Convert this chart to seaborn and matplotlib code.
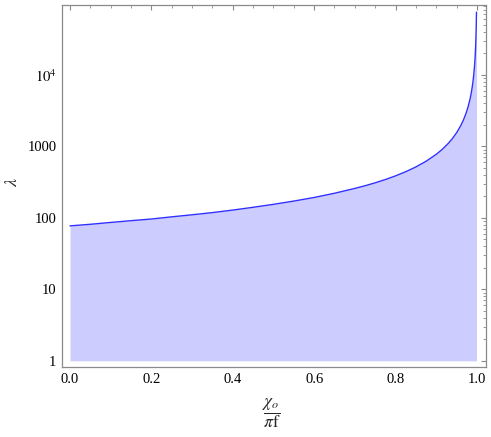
import numpy as np
import pandas as pd
import matplotlib
matplotlib.use("Agg")
import matplotlib.pyplot as plt
import seaborn as sns
from matplotlib.ticker import FixedLocator, NullFormatter

# values
x_vals = [0.0, 0.05, 0.1, 0.15, 0.2, 0.25, 0.3, 0.35, 0.4, 0.45, 0.5, 0.55,
          0.6, 0.65, 0.7, 0.725, 0.75, 0.775, 0.8, 0.825, 0.85, 0.875, 0.9,
          0.915, 0.93, 0.94, 0.95, 0.96, 0.967, 0.973, 0.978, 0.982, 0.985,
          0.988, 0.99, 0.992, 0.994, 0.9955, 0.9967, 0.9976, 0.9984, 0.999]
lam_vals = [77, 81, 86, 91, 96, 103, 110, 118, 128, 140, 154, 171,
            192, 220, 257, 280, 308, 342, 385, 440, 513, 616, 770,
            905, 1100, 1283, 1540, 1925, 2333, 2852, 3500, 4280, 5130,
            6420, 7700, 9625, 12830, 17100, 23300, 32000, 48100, 75000]
y_ticks = [1, 10, 100, 1000, 10000]
y_tick_labels = ["1", "10", "100", "1000", r"$10^4$"]
x_ticks = [0.0, 0.2, 0.4, 0.6, 0.8, 1.0]
x_tick_labels = ["0.0", "0.2", "0.4", "0.6", "0.8", "1.0"]

df = pd.DataFrame({"x": x_vals, "lam": lam_vals})

sns.set_style("white")
plt.rcParams["font.family"] = ["Liberation Serif", "DejaVu Serif"]
plt.rcParams["mathtext.fontset"] = "stix"

fig = plt.figure(figsize=(4.91, 4.37), dpi=100)
ax = fig.add_axes([0.1263, 0.160, 0.989 - 0.1263, 0.9886 - 0.160])

line_color = "#3030ff"
fill_color = "#ccccff"
ax.fill_between(df["x"], 1, df["lam"], color=fill_color, linewidth=0, zorder=1)
sns.lineplot(data=df, x="x", y="lam", ax=ax, color=line_color, linewidth=1.0,
             zorder=2)

ax.set_yscale("log")
ax.set_xlim(-0.0197, 1.0214)
ax.set_ylim(10 ** -0.088, 10 ** 4.975)

frame_color = "#8a8a8a"
for s in ax.spines.values():
    s.set_color(frame_color)
    s.set_linewidth(0.9)

ax.set_xticks(x_ticks)
ax.set_xticklabels(x_tick_labels)
ax.xaxis.set_minor_locator(FixedLocator(np.arange(0, 1.0001, 0.05)))
ax.set_yticks(y_ticks)
ax.set_yticklabels(y_tick_labels)
minor_y = [m * 10 ** e for e in range(0, 5) for m in range(2, 10)]
ax.yaxis.set_minor_locator(FixedLocator(minor_y))
ax.yaxis.set_minor_formatter(NullFormatter())

ax.tick_params(which="both", direction="in", top=True, right=True,
               color=frame_color, labelsize=10.5, labelcolor="black")
ax.tick_params(which="major", length=3.5, width=0.8, pad=4)
ax.tick_params(which="minor", length=2, width=0.6)

ax.set_ylabel(r"$\lambda$", fontsize=13)
ax.yaxis.label.set_va("center")
ax.yaxis.set_label_coords(-0.116, 0.51)
ax.set_xlabel(r"$\dfrac{\chi_o}{\pi\mathrm{f}}$", fontsize=12.5)
ax.xaxis.label.set_va("center")
ax.xaxis.set_label_coords(0.494, -0.127)

fig.savefig("out.png", dpi=100)
